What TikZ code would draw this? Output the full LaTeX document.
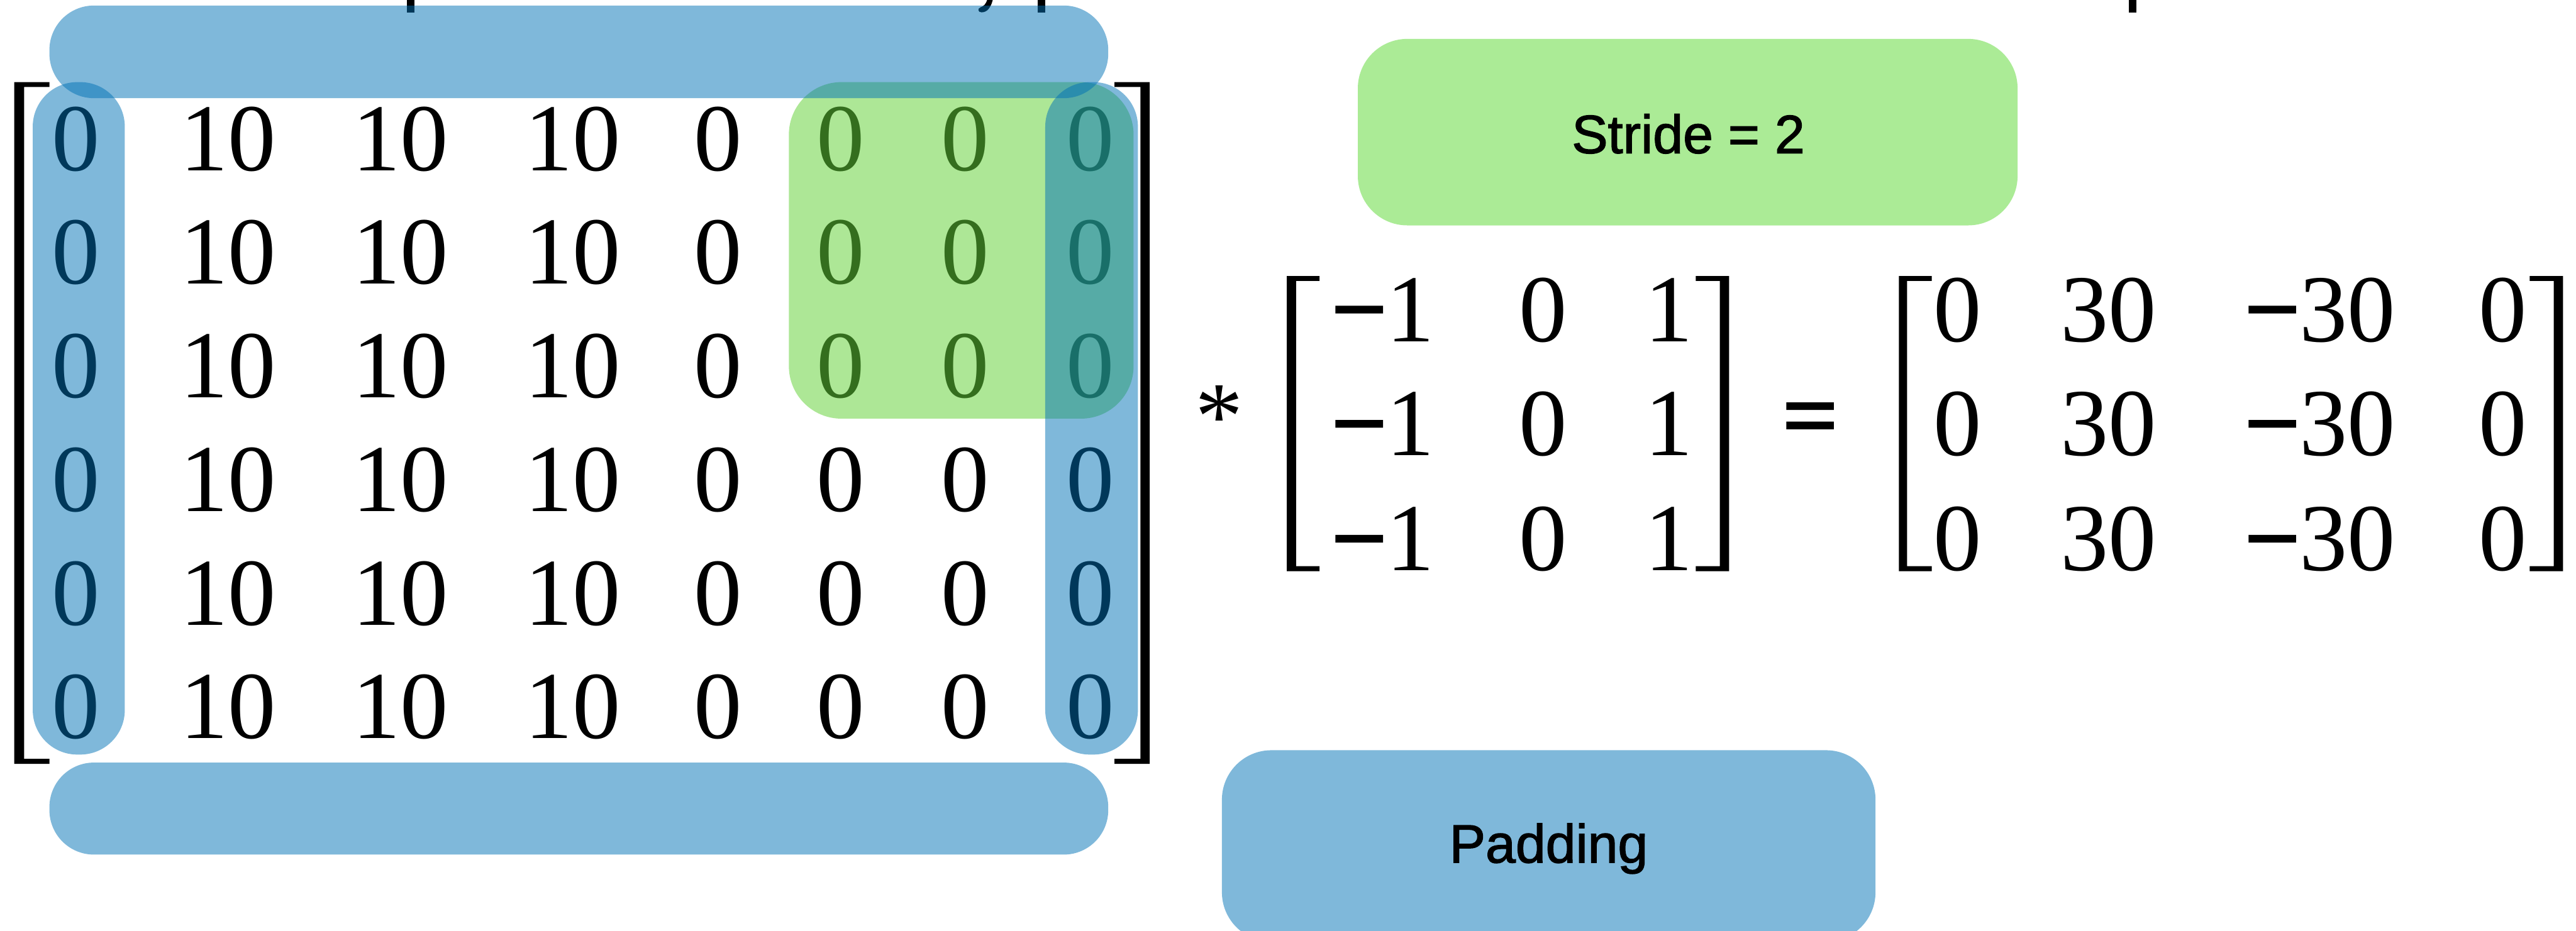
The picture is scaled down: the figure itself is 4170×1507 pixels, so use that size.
\documentclass[tikz,border=0pt]{standalone}
\usepackage{fontspec}
\setmainfont{Liberation Serif}
\newfontfamily\opfont[FakeBold=3]{Liberation Serif}
\newfontfamily\labelfont[FakeBold=1.6]{Liberation Sans}

\definecolor{padblue}{RGB}{0,113,181}
\definecolor{stridegreen}{RGB}{100,209,57}
\definecolor{padbluesolid}{RGB}{127,184,218}
\definecolor{stridegreensolid}{RGB}{171,235,150}

\newcommand{\mneg}{{\opfont −}}

\begin{document}
\begin{tikzpicture}[x=0.01cm, y=-0.01cm,
  num/.style={inner sep=0pt, anchor=base, font=\fontsize{44.2}{50}\selectfont},
  tag/.style={inner sep=0pt, anchor=base, font=\labelfont\fontsize{24.9}{30}\selectfont},
  padband/.style={fill=padblue, fill opacity=0.5, rounded corners=0.72cm},
  strideband/.style={fill=stridegreen, fill opacity=0.53, rounded corners=0.85cm},
  labelbox/.style={rounded corners=0.8cm},
]
\useasboundingbox (0,0) rectangle (4170,1507);
\clip (0,0) rectangle (4170,1507);

% descenders of a caption line running off the top edge
\fill (659,0) rectangle (671,20);
\fill (1680,0) rectangle (1692,20);
\fill (3446,0) rectangle (3458,20);
\fill (1598,0) -- (1607,0) .. controls (1604,12) and (1598,20) .. (1589,20)
      .. controls (1583,20) and (1582,14) .. (1587,12)
      .. controls (1593,10) and (1596,6) .. (1598,0) -- cycle;

% brackets of the padded input
\fill (23,133) -| (80,141) -| (39,1229) -| (80,1237) -| (23,133) -- cycle;
\fill (1861,133) -| (1804,141) -| (1846,1229) -| (1804,1237) -| (1861,133) -- cycle;
% brackets of the kernel
\fill (2083,447) -| (2136,455) -| (2098,917) -| (2136,925) -| (2083,447) -- cycle;
\fill (2799,447) -| (2745,455) -| (2784,917) -| (2745,925) -| (2799,447) -- cycle;
% brackets of the output
\fill (3074,447) -| (3127,455) -| (3087,917) -| (3127,925) -| (3074,447) -- cycle;
\fill (4149,447) -| (4095,455) -| (4134,917) -| (4095,925) -| (4149,447) -- cycle;

% padded input matrix
\foreach \r [count=\i] in {276,460,644,828,1012,1196} {
  \foreach \x/\v [count=\j] in {123/0,369/10,648/10,927/10,1162/0,1361/0,1562/0,1765/0}
    \node[num] (in-\i-\j) at (\x,\r) {\v};
}

% operator and kernel
\node[num] (conv) at (1974,726) {*};
\foreach \r [count=\i] in {553,738,924} {
  \foreach \x/\v [count=\j] in {2239/{\mneg1},2498/0,2702/1}
    \node[num] (k-\i-\j) at (\x,\r) {\v};
}

% result
\node[num, font=\opfont\fontsize{44.2}{50}\selectfont] (eq) at (2930,725) {=};
\foreach \r [count=\i] in {553,738,924} {
  \foreach \x/\v [count=\j] in {3169/0,3413/30,3756/{\mneg30},4052/0}
    \node[num] (out-\i-\j) at (\x,\r) {\v};
}

% stride window
\path[strideband] (1277,133) rectangle (1835,678);

% padding bands
\path[padband] (80,9) rectangle (1794,159);
\path[padband] (80,1235) rectangle (1794,1384);
\path[padband] (53,133) rectangle (202,1222);
\path[padband] (1692,133) rectangle (1842,1222);

% legend boxes
\fill[stridegreensolid, labelbox] (2198,63) rectangle (3266,365);
\fill[padbluesolid, labelbox] (1978,1215) rectangle (3036,1525);
\node[tag] (stride) at (2733,248) {Stride = 2};
\node[tag] (padding) at (2507,1397) {Padding};
\end{tikzpicture}
\end{document}
